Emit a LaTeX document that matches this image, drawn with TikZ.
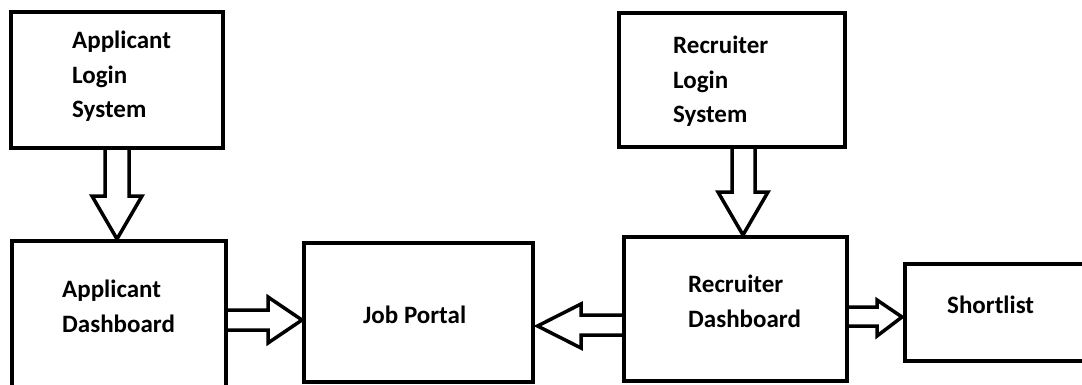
\documentclass[tikz,border=0pt]{standalone}
\usepackage{fontspec}
\setmainfont{Carlito}
\usetikzlibrary{calc}
\begin{document}
\begin{tikzpicture}[x=1pt,y=-1pt,
  box/.style={draw, line width=4pt, line join=miter, inner sep=0pt, outer sep=0pt},
  barrow/.style={draw, line width=3.5pt, fill=white, line join=miter},
  lbl/.style={font=\fontsize{25}{34.5}\selectfont\bfseries, inner sep=0pt, anchor=base west, align=left}]
\useasboundingbox (0,0) rectangle (1082,385);
\clip (0,0) rectangle (1082,385);
\fill[white] (0,0) rectangle (1082,385);
% boxes
\node[box, minimum width=212pt, minimum height=136pt] (alog) at (117,80) {};
\node[box, minimum width=226pt, minimum height=134pt] (rlog) at (732,80) {};
\node[box, minimum width=214pt, minimum height=159pt] (adash) at (119,320.5) {};
\node[box, minimum width=229pt, minimum height=139pt] (job) at (418.5,312.5) {};
\node[box, minimum width=223pt, minimum height=144pt] (rdash) at (735.5,309) {};
\node[box, minimum width=195pt, minimum height=97pt] (short) at (1002.5,312.5) {};
% block arrows
\draw[barrow] ([xshift=-12pt]alog.south) -- (105,196) -- (92,196)
  -- ([yshift=2pt]alog.south |- adash.north) -- (142,196) -- (129,196)
  -- ([xshift=12pt]alog.south) -- cycle;
\draw[barrow] (rlog.south) -- (732,192) -- (718,192)
  -- ([xshift=7.5pt,yshift=2pt]rdash.north) -- (768,192) -- (755,192)
  -- ([xshift=23pt]rlog.south) -- cycle;
\draw[barrow] ([yshift=10.5pt]adash.east) -- (268,310) -- (268,297)
  -- ([xshift=-2pt,yshift=-7.5pt]job.west) -- (268,343) -- (268,330)
  -- ([yshift=-9.5pt]adash.east) -- cycle;
\draw[barrow] ([yshift=-6pt]rdash.west) -- (581,315) -- (581,304)
  -- ([xshift=4.5pt,yshift=-13.5pt]job.east) -- (581,348) -- (581,335)
  -- ([yshift=-26pt]rdash.west) -- cycle;
\draw[barrow] ([yshift=2pt]rdash.east) -- (877,307) -- (877,300)
  -- ([xshift=-3pt,yshift=-4.5pt]short.west) -- (877,336) -- (877,326)
  -- ([yshift=-17pt]rdash.east) -- cycle;
% redraw box outlines on top
\foreach \n in {alog,rlog,adash,job,rdash,short}
  \draw[line width=4pt] (\n.north west) rectangle (\n.south east);
% labels (anchor = baseline of the last line)
\node[lbl] (alogt) at (72,118) {Applicant\\Login\\System};
\node[lbl] (rlogt) at (673,123) {Recruiter\\Login\\System};
\node[lbl] (adasht) at (62,332) {Applicant\\Dashboard};
\node[lbl] (jobt) at (363,323) {Job Portal};
\node[lbl] (rdasht) at (688,327) {Recruiter\\Dashboard};
\node[lbl] (shortt) at (947,313) {Shortlist};
\end{tikzpicture}
\end{document}
